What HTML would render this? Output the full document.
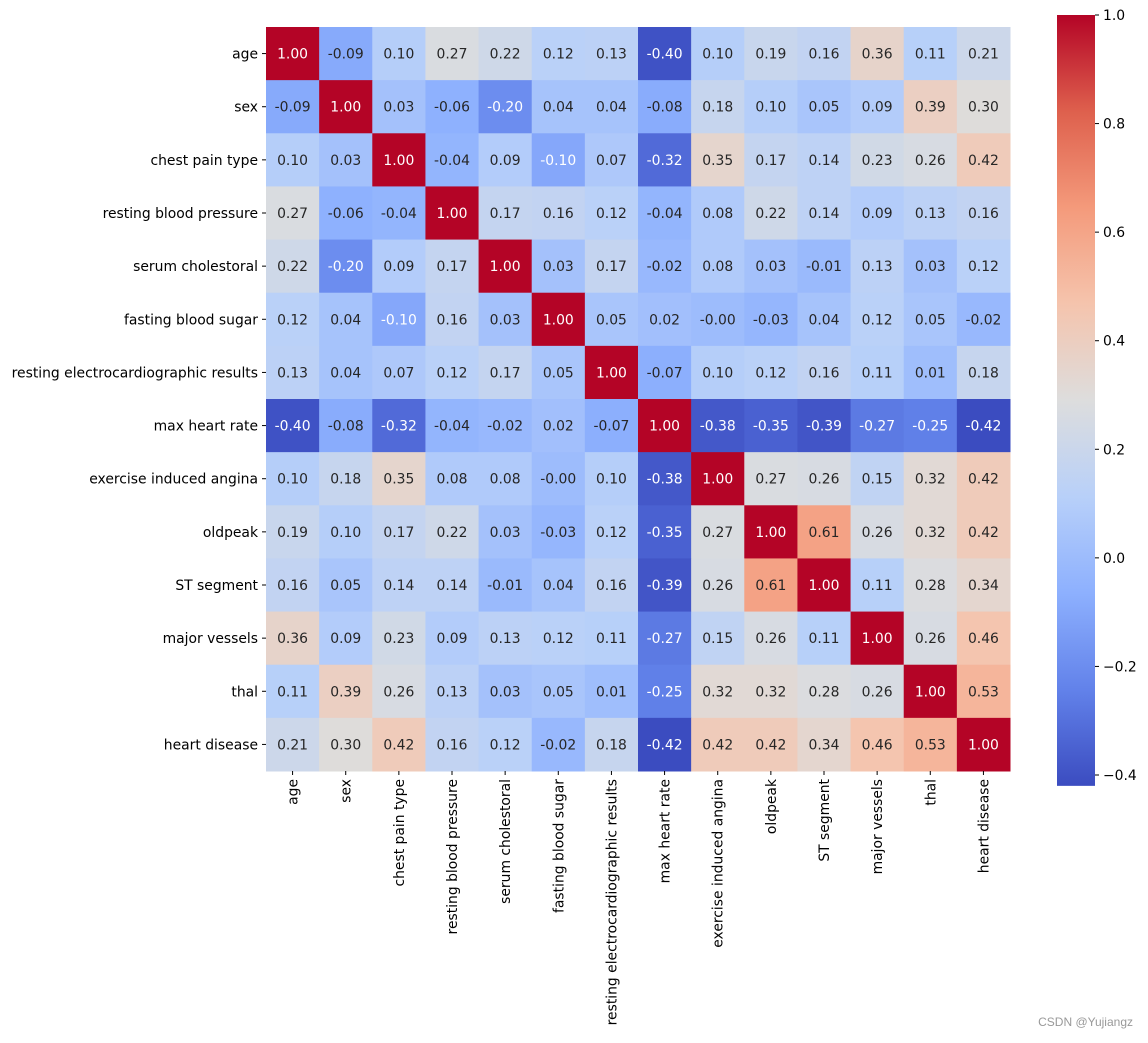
<!DOCTYPE html>
<html><head><meta charset="utf-8"><style>
body{margin:0;background:#fff;}
svg text{font-family:"DejaVu Sans","Liberation Sans",sans-serif;font-size:13.9px;}
</style></head><body>
<svg id="chart" width="1148" height="1038" xmlns="http://www.w3.org/2000/svg">
<defs><linearGradient id="cbg" x1="0" y1="1" x2="0" y2="0"></linearGradient></defs>
<g id="cells"></g><g id="labels"></g><g id="cbar"></g>
<text x="1133" y="1026" text-anchor="end" fill="#999" style="font-size:12px;font-family:'Liberation Sans',sans-serif">CSDN @Yujiangz</text>
</svg>
<script>
const categories=["age","sex","chest pain type","resting blood pressure","serum cholestoral","fasting blood sugar","resting electrocardiographic results","max heart rate","exercise induced angina","oldpeak","ST segment","major vessels","thal","heart disease"];
const values=[
[1.00,-0.09,0.10,0.27,0.22,0.12,0.13,-0.40,0.10,0.19,0.16,0.36,0.11,0.21],
[-0.09,1.00,0.03,-0.06,-0.20,0.04,0.04,-0.08,0.18,0.10,0.05,0.09,0.39,0.30],
[0.10,0.03,1.00,-0.04,0.09,-0.10,0.07,-0.32,0.35,0.17,0.14,0.23,0.26,0.42],
[0.27,-0.06,-0.04,1.00,0.17,0.16,0.12,-0.04,0.08,0.22,0.14,0.09,0.13,0.16],
[0.22,-0.20,0.09,0.17,1.00,0.03,0.17,-0.02,0.08,0.03,-0.01,0.13,0.03,0.12],
[0.12,0.04,-0.10,0.16,0.03,1.00,0.05,0.02,-0.001,-0.03,0.04,0.12,0.05,-0.02],
[0.13,0.04,0.07,0.12,0.17,0.05,1.00,-0.07,0.10,0.12,0.16,0.11,0.01,0.18],
[-0.40,-0.08,-0.32,-0.04,-0.02,0.02,-0.07,1.00,-0.38,-0.35,-0.39,-0.27,-0.25,-0.42],
[0.10,0.18,0.35,0.08,0.08,-0.001,0.10,-0.38,1.00,0.27,0.26,0.15,0.32,0.42],
[0.19,0.10,0.17,0.22,0.03,-0.03,0.12,-0.35,0.27,1.00,0.61,0.26,0.32,0.42],
[0.16,0.05,0.14,0.14,-0.01,0.04,0.16,-0.39,0.26,0.61,1.00,0.11,0.28,0.34],
[0.36,0.09,0.23,0.09,0.13,0.12,0.11,-0.27,0.15,0.26,0.11,1.00,0.26,0.46],
[0.11,0.39,0.26,0.13,0.03,0.05,0.01,-0.25,0.32,0.32,0.28,0.26,1.00,0.53],
[0.21,0.30,0.42,0.16,0.12,-0.02,0.18,-0.42,0.42,0.42,0.34,0.46,0.53,1.00]];
const cbTicks=[-0.4,-0.2,0.0,0.2,0.4,0.6,0.8,1.0];
const vmin=-0.42,vmax=1.0;
const cm=[[59,76,192],[98,130,234],[141,176,254],[184,208,249],[221,221,221],[245,196,173],[244,154,123],[222,96,77],[180,4,38]];
function cmap(v){let t=(v-vmin)/(vmax-vmin);t=Math.max(0,Math.min(1,t));let p=t*8,i=Math.min(7,Math.floor(p)),f=p-i;return cm[i].map((c,k)=>Math.round(c+(cm[i+1][k]-c)*f));}
function fmt(v){const s=Math.abs(v).toFixed(2);return (v<0?'-':'')+s;}
const X0=266,Y0=27,S=(1010-266)/14;
const xS=i=>X0+i*S, yS=i=>Y0+i*S;
const NS="http://www.w3.org/2000/svg";
function mk(t,a,p){const e=document.createElementNS(NS,t);for(const k in a)e.setAttribute(k,a[k]);p.appendChild(e);return e;}
const cells=document.getElementById('cells'),labels=document.getElementById('labels'),cbar=document.getElementById('cbar');
values.forEach((row,r)=>row.forEach((v,c)=>{
 const col=cmap(v);
 const rc=mk('rect',{x:xS(c),y:yS(r),width:S+0.5,height:S+0.5,fill:`rgb(${col})`},cells);
 
 
 const lum=col.map(x=>{x/=255;return x<=0.03928?x/12.92:Math.pow((x+0.055)/1.055,2.4);});
 const L=0.2126*lum[0]+0.7152*lum[1]+0.0722*lum[2];
 const tx=mk('text',{x:xS(c)+S/2,y:yS(r)+S/2+5,'text-anchor':'middle',fill:L>0.408?'#262626':'#fff'},cells);
 
 
 tx.textContent=fmt(v);
}));
categories.forEach((n,i)=>{
 mk('line',{x1:X0-4,x2:X0,y1:yS(i)+S/2,y2:yS(i)+S/2,stroke:'#000'},labels);
 const t=mk('text',{x:X0-8,y:yS(i)+S/2+5,'text-anchor':'end',fill:'#000'},labels);
 
 
 t.textContent=n;
 const yb=Y0+14*S;
 mk('line',{x1:xS(i)+S/2,x2:xS(i)+S/2,y1:yb,y2:yb+4,stroke:'#000'},labels);
 const t2=mk('text',{x:0,y:0,'text-anchor':'end',fill:'#000',transform:`translate(${xS(i)+S/2+5},${yb+8}) rotate(-90)`},labels);
 
 
 t2.textContent=n;
});
const grad=document.getElementById('cbg');
cm.forEach((c,i)=>mk('stop',{offset:(i/8*100)+'%','stop-color':`rgb(${c})`},grad));
const CX=1057,CW=38,Ctop=15,pxu=760/1.4;
const cy=v=>Ctop+(vmax-v)*pxu;
const cb=mk('rect',{x:CX,y:cy(vmax),width:CW,height:cy(vmin)-cy(vmax),fill:'url(#cbg)'},cbar);


cbTicks.forEach(v=>{
 mk('line',{x1:CX+CW,x2:CX+CW+4,y1:cy(v),y2:cy(v),stroke:'#000'},cbar);
 const t=mk('text',{x:CX+CW+8,y:cy(v)+5,fill:'#000'},cbar);
 
 
 t.textContent=(v<0?'\u2212':'')+Math.abs(v).toFixed(1);
});
</script>
</body></html>
